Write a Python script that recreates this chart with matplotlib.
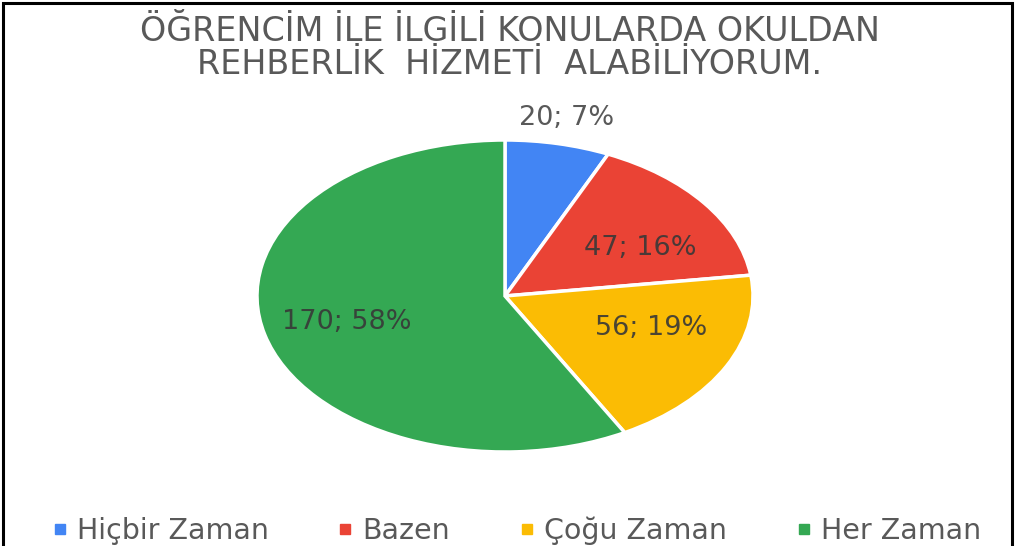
import numpy as np
import matplotlib.pyplot as plt
from matplotlib.lines import Line2D
from matplotlib.patches import Rectangle

# veriler
categories = ['Hiçbir Zaman', 'Bazen', 'Çoğu Zaman', 'Her Zaman']
counts = [20, 47, 56, 170]
colors = ['#4285F4', '#EA4335', '#FBBC04', '#34A853']
title = 'ÖĞRENCİM İLE İLGİLİ KONULARDA OKULDAN\nREHBERLİK  HİZMETİ  ALABİLİYORUM.'

plt.rcParams['font.family'] = ['DejaVu Sans']

fig = plt.figure(figsize=(10.19, 5.46), dpi=100)
fig.patch.set_facecolor('white')

# çerçeve
fig.patches.append(Rectangle((3 / 1019, -0.05), 1009 / 1019, 1.05 - 3 / 546,
                             transform=fig.transFigure, fill=False,
                             edgecolor='black', linewidth=2.2))

fig.text(0.5, 1 - 48 / 546, title, ha='center', va='center', fontsize=24,
         color='#595959', linespacing=1.0)

# pasta grafiği (yatay olarak basık elips)
ax = fig.add_axes([257 / 1019, 1 - 452 / 546, 496 / 1019, 312 / 546])
wedges, _ = ax.pie(counts, colors=colors, startangle=90, counterclock=False,
                   wedgeprops=dict(edgecolor='white', linewidth=2.5))
ax.set_aspect('auto')
ax.set_xlim(-1, 1)
ax.set_ylim(-1, 1)

total = sum(counts)
label_r = [1.17, 0.68, 0.66, 0.66]
y_shift = [0, -0.1, 0.09, 0]
start = 90.0
for i, c in enumerate(counts):
    span = 360.0 * c / total
    mid = np.deg2rad(start - span / 2)
    start -= span
    pct = round(100 * c / total)
    x = label_r[i] * np.cos(mid)
    y = label_r[i] * np.sin(mid) + y_shift[i]
    col = '#595959' if i == 0 else '#383838'
    ax.text(x, y, f'{c}; {pct}%', ha='center', va='center', fontsize=19.5,
            color=col, clip_on=False, alpha=1 if i == 0 else 0.9)

handles = [Line2D([], [], marker='s', linestyle='', markersize=7,
                  markerfacecolor=c, markeredgecolor=c) for c in colors]
fig.legend(handles, categories, loc='center', bbox_to_anchor=(0.505, 0.028),
           ncol=4, frameon=False, fontsize=20.5, labelcolor='#595959',
           handletextpad=0.2, columnspacing=2.3, handlelength=0.8)

fig.savefig('out.png', dpi=100)
